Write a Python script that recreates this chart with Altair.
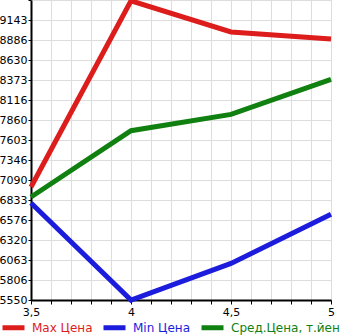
import altair as alt
import pandas as pd

x_vals = [3.5, 4.0, 4.5, 5.0]
max_price = [7000, 9390, 8990, 8900]
min_price = [6795, 5550, 6020, 6650]
avg_price = [6872, 7722, 7932, 8382]
series_names = ["Max Цена", "Min Цена", "Сред.Цена, т.йен"]
series_colors = ["#dd1c1c", "#1c1cdd", "#108010"]

y_min, y_max = 5550, 9400
y_ticks = [y_min + i * (y_max - y_min) / 15 for i in range(16)]
x_ticks = [round(3.5 + i * 0.1, 1) for i in range(16)]

rows = []
for name, vals in zip(series_names, [max_price, min_price, avg_price]):
    for x, v in zip(x_vals, vals):
        rows.append({"x": x, "v": v, "s": name})
df = pd.DataFrame(rows)

color_expr = (
    "datum.value == 'Max Цена' ? '#dd1c1c' : "
    "(datum.value == 'Min Цена' ? '#1c1cdd' : '#108010')"
)

chart = alt.Chart(df).mark_line(strokeWidth=5, strokeCap="butt").encode(
    x=alt.X("x:Q", scale=alt.Scale(domain=[3.5, 5.0], nice=False, zero=False),
            axis=alt.Axis(values=x_ticks, title=None, grid=True,
                          labelExpr="(abs(datum.value*2 - round(datum.value*2)) < 0.001) ? replace(format(datum.value, ''), '.', ',') : ''",
                          tickSize=4, tickColor="#000", domainColor="#000", domainWidth=2,
                          labelFontSize=11, labelPadding=2, labelColor="#000",
                          labelFont="DejaVu Sans", labelFlush=False)),
    y=alt.Y("v:Q", scale=alt.Scale(domain=[y_min, y_max], nice=False, zero=False),
            axis=alt.Axis(values=y_ticks, title=None, grid=True,
                          labelExpr="datum.value >= 9399 ? '' : format(floor(datum.value + 0.01), 'd')",
                          tickSize=3, tickColor="#000", domainColor="#000", domainWidth=2,
                          labelFontSize=11, labelPadding=1, labelColor="#000",
                          labelFont="DejaVu Sans", labelFlush=False)),
    color=alt.Color("s:N", sort=series_names,
                    scale=alt.Scale(domain=series_names, range=series_colors),
                    legend=alt.Legend(orient="none", legendX=-31, legendY=314,
                                      direction="horizontal", title=None,
                                      symbolType="stroke", symbolStrokeWidth=5,
                                      symbolSize=484, labelFontSize=12,
                                      labelFont="DejaVu Sans",
                                      labelColor=alt.ExprRef(color_expr),
                                      labelOffset=5, columnPadding=0,
                                      padding=0, labelLimit=300)),
).properties(
    width=300, height=300,
    autosize=alt.AutoSizeParams(type="none"),
    padding={"left": 31, "right": 14, "top": 0, "bottom": 35},
).configure_view(
    fill="#f5f5f5", stroke=None
).configure_axis(
    gridColor="#bdbdbd", gridWidth=1.8
).configure(background="#ffffff")

chart.save("out.html", embed_options={"renderer": "svg", "actions": False})
